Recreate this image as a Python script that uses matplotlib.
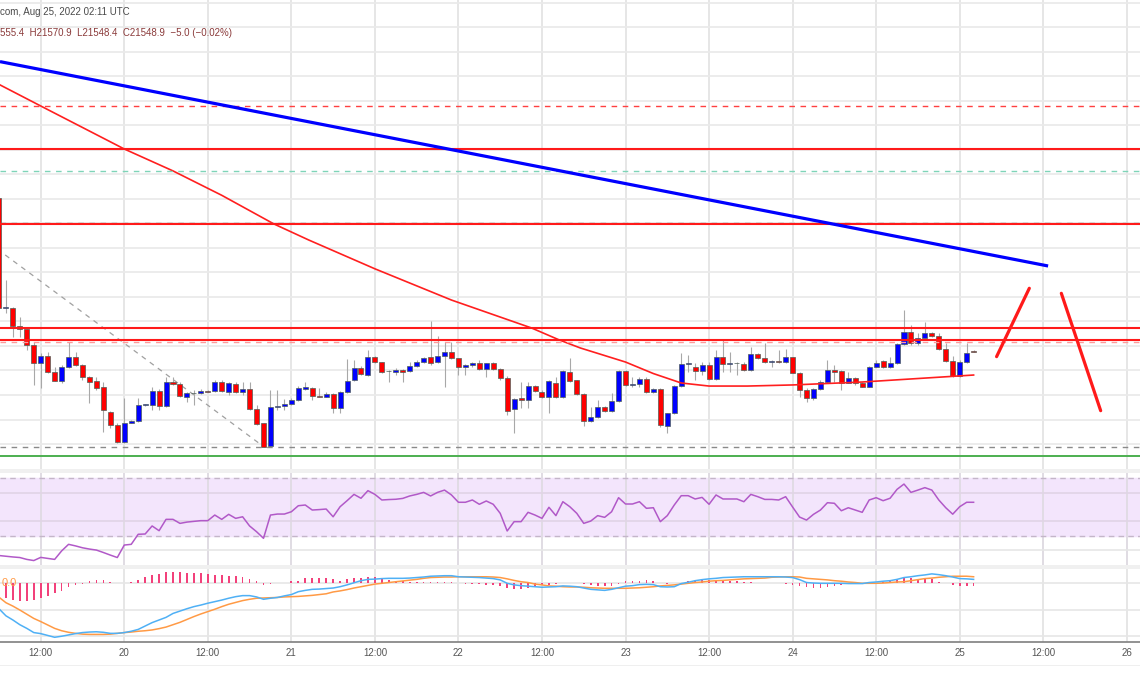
import numpy as np
import matplotlib
matplotlib.use("Agg")
import matplotlib.pyplot as plt
from matplotlib.patches import Rectangle

# ---------------- data (hourly candles, hours since 2022-08-19 00:00 UTC) ----------------
hours = np.arange(6, 147)

opens = [22808, 21910, 21913, 21766, 21736, 21608, 21464, 21521, 21385, 21317,
         21426, 21513, 21445, 21345, 21314, 21263, 21064, 20955, 20819, 20974,
         20990, 21116, 21118, 21233, 21110, 21309, 21290, 21186, 21214, 21219,
         21235, 21235, 21309, 21227, 21290, 21222, 21249, 21083, 20969, 20784,
         21100, 21110, 21124, 21159, 21249, 21255, 21194, 21186, 21208, 21091,
         21227, 21322, 21418, 21363, 21513, 21467, 21392, 21390, 21404, 21398,
         21437, 21467, 21508, 21467, 21518, 21553, 21500, 21431, 21445, 21464,
         21412, 21459, 21412, 21336, 21083, 21173, 21159, 21273, 21227, 21186,
         21300, 21181, 21390, 21322, 21206, 20990, 21018, 21104, 21069, 21151,
         21396, 21282, 21290, 21331, 21227, 21247, 20947, 21051, 21276, 21453,
         21431, 21396, 21445, 21328, 21508, 21455, 21461, 21453, 21404, 21535,
         21504, 21470, 21480, 21467, 21508, 21382, 21241, 21178, 21247, 21309,
         21404, 21396, 21300, 21336, 21300, 21268, 21431, 21477, 21426, 21459,
         21614, 21712, 21622, 21668, 21709, 21682, 21573, 21478, 21355, 21472,
         21555.4]
highs = [22824, 22140, 21915, 21839, 21740, 21635, 21543, 21553, 21431, 21445,
         21635, 21553, 21450, 21355, 21350, 21309, 21070, 20975, 21176, 20995,
         21175, 21130, 21268, 21250, 21350, 21350, 21309, 21227, 21241, 21245,
         21240, 21322, 21322, 21309, 21309, 21309, 21309, 21118, 20974, 21241,
         21241, 21170, 21173, 21273, 21309, 21263, 21255, 21225, 21214, 21235,
         21491, 21486, 21437, 21567, 21518, 21472, 21400, 21418, 21410, 21472,
         21486, 21513, 21807, 21682, 21635, 21635, 21505, 21450, 21472, 21486,
         21464, 21472, 21418, 21355, 21173, 21309, 21309, 21282, 21241, 21322,
         21345, 21404, 21500, 21325, 21214, 21104, 21159, 21110, 21214, 21404,
         21404, 21350, 21350, 21350, 21255, 21255, 21056, 21282, 21540, 21527,
         21459, 21472, 21472, 21567, 21649, 21553, 21472, 21472, 21589, 21540,
         21627, 21486, 21567, 21573, 21513, 21390, 21255, 21255, 21322, 21486,
         21445, 21400, 21390, 21350, 21309, 21437, 21486, 21486, 21513, 21622,
         21894, 21771, 21704, 21798, 21717, 21704, 21622, 21518, 21486, 21627,
         21570.9]
lows = [21905, 21869, 21676, 21676, 21567, 21282, 21257, 21380, 21315, 21296,
        21418, 21440, 21322, 21137, 21241, 20900, 20930, 20806, 20806, 20970,
        20980, 21110, 21078, 21080, 21105, 21282, 21186, 21145, 21118, 21212,
        21222, 21227, 21227, 21200, 21214, 21200, 21078, 20955, 20773, 20778,
        21078, 21078, 21118, 21155, 21241, 21159, 21183, 21180, 21051, 21051,
        21219, 21318, 21363, 21355, 21459, 21382, 21309, 21363, 21309, 21390,
        21431, 21459, 21445, 21459, 21268, 21491, 21363, 21363, 21431, 21404,
        21345, 21404, 21322, 21037, 20887, 21091, 21091, 21227, 21173, 21056,
        21173, 21173, 21309, 21200, 20947, 20982, 21010, 21064, 21060, 21145,
        21273, 21268, 21263, 21219, 21214, 20941, 20887, 21045, 21268, 21390,
        21322, 21363, 21322, 21322, 21390, 21390, 21363, 21398, 21398, 21491,
        21459, 21431, 21459, 21459, 21377, 21186, 21145, 21159, 21241, 21300,
        21309, 21241, 21296, 21282, 21263, 21263, 21426, 21418, 21418, 21453,
        21608, 21608, 21608, 21663, 21676, 21567, 21472, 21350, 21345, 21464,
        21548.4]
closes = [21910, 21915, 21766, 21736, 21608, 21464, 21521, 21385, 21317, 21431,
          21513, 21445, 21345, 21309, 21255, 21078, 20955, 20819, 20974, 20990,
          21118, 21127, 21233, 21110, 21304, 21290, 21192, 21214, 21219, 21235,
          21227, 21304, 21233, 21296, 21222, 21249, 21083, 20963, 20778, 21104,
          21113, 21124, 21159, 21255, 21263, 21194, 21186, 21206, 21091, 21227,
          21314, 21418, 21371, 21513, 21467, 21390, 21396, 21404, 21390, 21437,
          21469, 21504, 21459, 21518, 21553, 21500, 21431, 21445, 21464, 21412,
          21459, 21412, 21336, 21072, 21167, 21159, 21273, 21233, 21181, 21314,
          21181, 21396, 21314, 21206, 20990, 21018, 21100, 21069, 21151, 21396,
          21282, 21288, 21331, 21227, 21247, 20955, 21051, 21276, 21453, 21458,
          21396, 21445, 21328, 21508, 21453, 21461, 21459, 21404, 21535, 21500,
          21467, 21474, 21467, 21508, 21382, 21241, 21178, 21247, 21309, 21404,
          21390, 21300, 21336, 21296, 21268, 21431, 21464, 21426, 21459, 21614,
          21712, 21622, 21668, 21709, 21684, 21573, 21478, 21355, 21472, 21540,
          21548.9]

# moving average (read at sample points)
ma_hours = [6.15, 12, 24, 31, 38, 45.5, 50.5, 60, 71, 82.5, 86.5, 89.5, 96, 100, 104, 108,
            113.5, 120, 130, 146]
ma_values = [23731, 23559, 23208, 23029, 22830, 22596, 22465, 22230, 21975, 21747,
             21649, 21584, 21469, 21375, 21298, 21273, 21273, 21282, 21306, 21363]

# drawn levels
red_solid_levels = [23206, 22596, 21745, 21649]
red_dashed_levels = [23559]
teal_dashed_levels = [23029]
grey_dashed_levels = [22606, 20778]
pink_dashed_levels = [21634]
green_levels = [20705]

trend_hours = [6.15, 156.7]
trend_prices = [23921, 22253]
diag_hours = [6.9, 43.7]
diag_prices = [22343, 20792]
arrow_up_hours = [149.3, 154.0]
arrow_up_prices = [21513, 22071]
arrow_down_hours = [158.6, 164.25]
arrow_down_prices = [22030, 21072]

rsi = [16.2, 15.7, 15.2, 14.8, 13.5, 12.7, 14.9, 14.2, 13.5, 19.4,
       24.0, 22.9, 21.6, 20.7, 20.0, 18.3, 16.5, 14.8, 23.5, 24.0,
       31.0, 31.2, 36.8, 33.5, 41.4, 41.4, 38.6, 39.5, 40.0, 40.5,
       40.5, 44.4, 41.4, 44.9, 42.1, 43.2, 36.8, 32.8, 28.2, 44.4,
       45.1, 45.1, 46.7, 50.9, 51.4, 47.9, 48.2, 48.6, 43.2, 50.2,
       54.4, 58.8, 56.1, 61.4, 58.8, 54.9, 55.2, 55.4, 56.0, 57.7,
       58.8, 60.2, 57.7, 60.2, 61.8, 58.4, 53.3, 53.3, 54.9, 51.9,
       54.2, 51.9, 45.6, 33.3, 39.8, 39.8, 46.3, 44.4, 42.1, 49.8,
       44.0, 53.7, 50.2, 45.6, 38.6, 40.2, 44.0, 42.8, 46.7, 56.5,
       52.1, 52.1, 53.7, 49.1, 49.5, 39.8, 44.0, 51.4, 57.9, 57.9,
       55.6, 56.7, 51.9, 58.4, 55.6, 55.6, 55.6, 53.7, 58.8, 57.2,
       55.3, 55.3, 54.9, 57.2, 50.0, 43.0, 40.9, 44.9, 47.9, 53.0,
       52.6, 47.4, 49.5, 47.9, 46.3, 54.9, 56.5, 54.4, 56.1, 62.3,
       66.0, 60.2, 61.8, 63.5, 61.8, 54.9, 49.5, 45.0, 50.2, 53.3,
       53.3]

macd = [-97, -124, -140, -158, -172, -188, -192, -199, -206, -202,
        -197, -192, -188, -186, -185, -187, -191, -191, -188, -183,
        -176, -163, -150, -140, -130, -115, -106, -97, -89, -83,
        -76, -70, -64, -57, -51, -47, -47, -52, -61, -57,
        -54, -48, -43, -32, -27, -23, -22, -20, -18, -13,
        -6, 2, 10, 15, 16, 18, 19, 19, 19, 20,
        22, 24, 27, 28, 29, 29, 25, 24, 23, 22,
        20, 18, 13, 0, -6, -9, -11, -13, -15, -14,
        -13, -10, -11, -13, -18, -23, -25, -27, -23, -17,
        -11, -9, -5, -4, -5, -13, -14, -13, -1, 4,
        10, 14, 17, 19, 22, 23, 24, 25, 25, 25,
        25, 25, 25, 24, 22, 14, 3, 1, 0, 0,
        0, 0, -1, -1, -1, 3, 5, 8, 10, 15,
        22, 25, 29, 32, 36, 33, 29, 24, 18, 17,
        15]
signal = [-53, -74, -87, -102, -118, -134, -146, -159, -172, -181,
          -187, -191, -194, -195, -195, -195, -194, -191, -188, -186,
          -183, -181, -178, -173, -167, -158, -149, -138, -127, -117,
          -108, -99, -89, -80, -73, -66, -61, -57, -56, -55,
          -54, -52, -51, -50, -48, -46, -43, -40, -33, -29,
          -24, -18, -13, -8, -3, 0, 3, 6, 9, 12,
          15, 19, 22, 23, 24, 24, 25, 25, 25, 25,
          25, 24, 22, 17, 11, 6, 3, -3, -6, -10,
          -11, -13, -14, -14, -15, -17, -18, -19, -19, -19,
          -19, -18, -17, -15, -13, -10, -8, -6, -3, 0,
          3, 5, 8, 10, 11, 13, 15, 17, 18, 19,
          20, 23, 24, 25, 25, 24, 19, 17, 15, 13,
          10, 8, 5, 3, 0, 0, 0, 1, 3, 5,
          6, 10, 14, 18, 20, 23, 25, 27, 27, 27,
          25]
hist = [-45, -57, -64, -66, -66, -64, -57, -48, -38, -28,
        -15, -6, -1, 9, 13, 13, 6, 1, 0, 6,
        13, 23, 32, 36, 43, 45, 45, 41, 38, 38,
        34, 32, 31, 29, 28, 23, 17, 9, -6, -3,
        3, 3, 10, 10, 19, 19, 19, 19, 15, 10,
        15, 19, 22, 25, 23, 17, 13, 10, 8, 6,
        5, 5, 5, 5, 5, 5, 0, -1, -2, -3,
        -5, -6, -9, -19, -23, -23, -19, -13, -8, -6,
        -4, 0, 3, 0, -3, -6, -10, -10, -9, -3,
        10, 8, 10, 13, 10, 0, -3, 0, 3, 10,
        10, 13, 13, 13, 10, 10, 10, 6, 6, 3,
        3, 0, 0, -3, -6, -10, -15, -19, -17, -13,
        -9, -6, -3, -3, -3, 0, 3, 5, 8, 13,
        23, 19, 17, 17, 15, 6, 0, -6, -9, -9,
        -9]

tick_hours = [12, 24, 36, 48, 60, 72, 84, 96, 108, 120, 132, 144, 156, 168]
tick_labels = ["12:00", "20", "12:00", "21", "12:00", "22", "12:00", "23",
               "12:00", "24", "12:00", "25", "12:00", "26"]

# ---------------- layout ----------------
W, H = 1140, 694
FONT = "Liberation Sans"
fig = plt.figure(figsize=(W / 100, H / 100), dpi=100)
fig.patch.set_facecolor("white")
XMIN, XMAX = 6.15, 169.9


def add_ax(top, bot):
    a = fig.add_axes([0, 1 - bot / H, 1, (bot - top) / H])
    a.set_xlim(XMIN, XMAX)
    for s in a.spines.values():
        s.set_visible(False)
    a.set_xticks([])
    a.set_yticks([])
    a.set_facecolor("white")
    for t in tick_hours:
        a.axvline(t, color="#e4e4e4", lw=1.3, zorder=0)
    return a


ax = add_ax(0, 469)
ax_rsi = add_ax(473, 565)
ax_macd = add_ax(569, 642)

# ---------------- main price panel ----------------
ax.set_ylim(20596, 24424)
for p in range(20800, 24500, 200):
    ax.axhline(p, color="#eaeaea", lw=1.3, zorder=0)

wick_c = "#a8a8a8"
ax.vlines(hours, lows, highs, color=wick_c, lw=0.8, zorder=2)
bw = 0.72
for h, o, c in zip(hours, opens, closes):
    col = "#0000ff" if c > o else "#ff0000"
    bottom = min(o, c)
    height = max(abs(c - o), 5)
    ax.add_patch(Rectangle((h - bw / 2, bottom), bw, height, facecolor=col,
                           edgecolor="#4f5f58", lw=0.5, zorder=3))

ax.plot(ma_hours, ma_values, color="#ff1f1f", lw=1.2, zorder=4)

for p in red_solid_levels:
    ax.axhline(p, color="#ff1a1a", lw=1.5, zorder=5)
for p in red_dashed_levels:
    ax.axhline(p, color="#ff4040", lw=1.0, ls=(0, (4, 4)), zorder=5)
for p in teal_dashed_levels:
    ax.axhline(p, color="#7fd4b8", lw=1.0, ls=(0, (4, 4)), zorder=5)
for p in grey_dashed_levels:
    ax.axhline(p, color="#8a8a8a", lw=1.0, ls=(0, (4, 4)), zorder=4)
for p in pink_dashed_levels:
    ax.axhline(p, color="#ff9a9a", lw=1.0, ls=(0, (4, 4)), zorder=4)
for p in green_levels:
    ax.axhline(p, color="#4caf50", lw=1.4, zorder=5)

ax.plot(trend_hours, trend_prices, color="#0000ff", lw=2.3, zorder=6, solid_capstyle="butt")
ax.plot(diag_hours, diag_prices, color="#a0a0a0", lw=0.9, ls=(0, (4, 4)), zorder=1)
ax.plot(arrow_up_hours, arrow_up_prices, color="#ff1a1a", lw=2.3, zorder=6, solid_capstyle="round")
ax.plot(arrow_down_hours, arrow_down_prices, color="#ff1a1a", lw=2.3, zorder=6, solid_capstyle="round")

# ---------------- RSI panel ----------------
ax_rsi.set_ylim(9.6, 73.7)
ax_rsi.axhspan(30, 70, color="#f3e5fc", zorder=0)
for t in tick_hours:
    ax_rsi.axvline(t, color="#e0dbe3", lw=1.3, zorder=0.5)
for lv in (70, 30):
    ax_rsi.axhline(lv, color="#c4b6c9", lw=1.0, ls=(0, (4, 3)), zorder=1)
for lv in (60, 40):
    ax_rsi.axhline(lv, color="#e0d4e6", lw=1.2, zorder=0.6)
ax_rsi.axhline(20, color="#e6e6e6", lw=1.2, zorder=0.6)
ax_rsi.plot(hours, rsi, color="#b159c8", lw=1.1, zorder=3)

# ---------------- MACD panel ----------------
ax_macd.set_ylim(-224, 54.6)
for lv in (0, -100, -200):
    ax_macd.axhline(lv, color="#e6e6e6", lw=1.2, zorder=0)
ax_macd.bar(hours, hist, width=0.25, color="#f2417b", zorder=2)
ax_macd.plot(hours, signal, color="#ff9a45", lw=1.1, zorder=3)
ax_macd.plot(hours, macd, color="#4fb0f5", lw=1.1, zorder=4)
ax_macd.spines["bottom"].set_visible(True)
ax_macd.spines["bottom"].set_color("#7f7f7f")
ax_macd.spines["bottom"].set_linewidth(1.2)
ax_macd.text(0.001, 0, "0.0", transform=ax_macd.get_yaxis_transform(),
             color="#ff9a45", fontsize=8, family=FONT, ha="left", va="center", zorder=6)

# separators
for top, bot in ((469, 473), (565, 569)):
    fig.patches.append(Rectangle((0, 1 - bot / H), 1, (bot - top) / H,
                                 transform=fig.transFigure, facecolor="#f0f0f0",
                                 edgecolor="none", zorder=0))
fig.patches.append(Rectangle((0, 1 - 666 / H), 1, 1.5 / H, transform=fig.transFigure,
                             facecolor="#efefef", edgecolor="none"))

# x tick labels
for t, lab in zip(tick_hours, tick_labels):
    xf = (t - XMIN) / (XMAX - XMIN)
    fig.text(xf, 1 - 653 / H, lab, ha="center", va="center", fontsize=7,
             family=FONT, color="#555555")

# header
fig.text(0.0, 1 - 12 / H, "com, Aug 25, 2022 02:11 UTC", ha="left", va="center",
         fontsize=7, family=FONT, color="#4a4a4a")
fig.text(0.0, 1 - 33 / H, "555.4  H21570.9  L21548.4  C21548.9  \u22125.0 (\u22120.02%)",
         ha="left", va="center", fontsize=7, family=FONT, color="#8b3b3b")

fig.savefig("out.png", dpi=100, facecolor="white")
